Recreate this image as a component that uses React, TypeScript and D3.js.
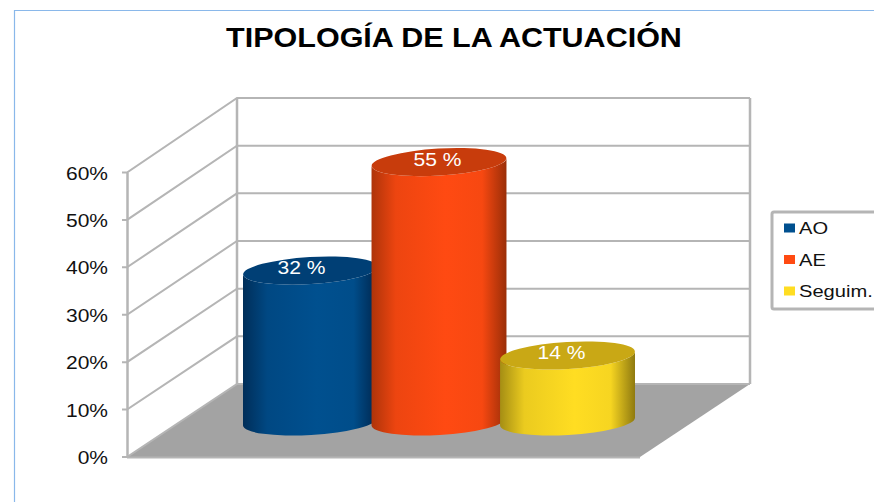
import React from "react";
import * as d3 from "d3";

const title = "TIPOLOGÍA DE LA ACTUACIÓN";
const categories = ["AO", "AE", "Seguim."];
const values = [32, 55, 14];
const labels = ["32 %", "55 %", "14 %"];
const mainColors = ["#00508f", "#ff4a12", "#ffdd22"];
const topColors = ["#003f75", "#c83c0c", "#c9a815"];
const edgeColors = ["#00254c", "#9a2e08", "#8f7a10"];
const ticks = [0, 10, 20, 30, 40, 50, 60];

export default function App() {
  const yBack = d3.scaleLinear().domain([0, 60]).range([384, 98]);
  const yFront = d3.scaleLinear().domain([0, 60]).range([457, 172.5]);
  const xBand = d3.scaleBand<number>().domain([0, 1, 2]).range([243, 635]).paddingInner(-0.05);
  const h = d3.scaleLinear().domain([0, 60]).range([0, 283]);
  const rot = -3.4;
  const ry = 13.5;
  const baseY = 421.5;
  const labelShift = [-9, -1.5, -6];
  const line = d3.line();
  const stretched = (x: number, y: number, k: number) => `translate(${x} ${y}) scale(${k} 1)`;
  return (
    <svg width={874} height={502} style={{ position: "absolute", left: 0, top: 0, fontFamily: "'Liberation Sans', Arial, sans-serif" }}>
      <defs>
        {categories.map((_, i) => {
          const mix = d3.interpolateRgb(edgeColors[i], mainColors[i]);
          return (
            <linearGradient key={i} id={`g${i}`} x1="0" x2="1" y1="0" y2="0">
              <stop offset="0" stopColor={mix(0.2)} />
              <stop offset="0.18" stopColor={mix(0.82)} />
              <stop offset="0.55" stopColor={mix(1)} />
              <stop offset="0.82" stopColor={mix(0.92)} />
              <stop offset="1" stopColor={mix(0)} />
            </linearGradient>
          );
        })}
      </defs>
      <rect width={874} height={502} fill="#fff" />
      <path d="M14.5,502V10.5H874" fill="none" stroke="#8ab8ea" strokeWidth={1.2} />
      <text transform={stretched(454, 47, 1.09)} textAnchor="middle" fontSize={28} fontWeight="bold" fill="#000">{title}</text>

      <path d={line([[127, 457], [237, 384], [750, 384], [640, 457]])! + "Z"} fill="#a3a3a3" />
      <g fill="none" stroke="#b5b5b5" strokeWidth={2}>
        {ticks.map((t) => (
          <path key={t} d={line([[122, yFront(t)], [127, yFront(t)], [237, yBack(t)], [750, yBack(t)]])!} />
        ))}
        <path d={line([[127.5, yFront(60)], [127.5, yFront(0)]])!} strokeWidth={2.5} />
        <path d={line([[237, yBack(60)], [237, yBack(0)]])!} strokeWidth={2.5} />
        <path d={line([[750, yBack(60)], [750, yBack(0)]])!} strokeWidth={2.5} />
        <path d={line([[127, 457.5], [640, 457.5]])!} />
      </g>
      {ticks.map((t) => (
        <text key={t} transform={stretched(108, yFront(t) + 0.7, 1.2)} dy="0.36em" textAnchor="end" fontSize={17.5} fill="#111">{t}%</text>
      ))}

      {categories.map((_, i) => {
        const x0 = xBand(i)!;
        const w = xBand.bandwidth();
        const rx = w / 2;
        const cx = x0 + rx;
        const dyR = Math.sin((-rot * Math.PI) / 180) * rx;
        const topY = baseY - h(values[i]);
        const body = `M${x0},${topY + dyR}L${x0},${baseY + dyR}A${rx},${ry},${rot},0,0,${x0 + w},${baseY - dyR}L${x0 + w},${topY - dyR}A${rx},${ry},${rot},0,1,${x0},${topY + dyR}Z`;
        return (
          <g key={i}>
            <path d={body} fill={`url(#g${i})`} />
            <ellipse cx={cx} cy={topY} rx={rx} ry={ry} transform={`rotate(${rot} ${cx} ${topY})`} fill={topColors[i]} />
            <text transform={stretched(cx + labelShift[i], topY - 3, 1.17)} dy="0.36em" textAnchor="middle" fontSize={18} fill="#fff">{labels[i]}</text>
          </g>
        );
      })}

      <rect x={772} y={212} width={110} height={97} rx={2} fill="#fff" stroke="#b5b5b5" strokeWidth={3} />
      {categories.map((c, i) => {
        const ly = d3.scaleLinear().domain([0, 2]).range([228, 291])(i);
        return (
          <g key={c}>
            <rect x={784} y={ly - 4.5} width={11} height={9} fill={mainColors[i]} />
            <text transform={stretched(799, ly + 0.5, 1.22)} dy="0.36em" fontSize={16.5} fill="#111">{c}</text>
          </g>
        );
      })}
    </svg>
  );
}
